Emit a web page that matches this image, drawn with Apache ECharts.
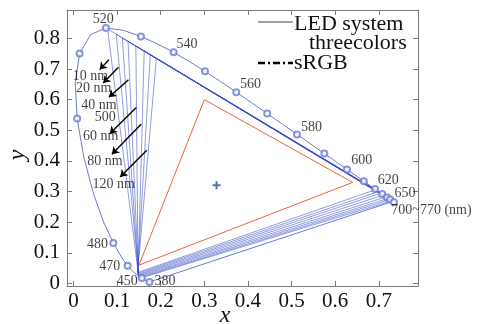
<!DOCTYPE html>
<html>
<head>
<meta charset="utf-8">
<script src="https://cdn.jsdelivr.net/npm/echarts@6/dist/echarts.min.js"></script>
<style>
  html, body { margin: 0; padding: 0; background: #fff; }
  #chart { width: 485px; height: 324px; }
</style>
</head>
<body>
<div id="chart"></div>
<script>
// CIE 1931 spectral locus, 380-700 nm in 5 nm steps (700-770 collapse to one point)
const locusNm = [380, 385, 390, 395, 400, 405, 410, 415, 420, 425, 430, 435, 440, 445, 450, 455, 460, 465, 470, 475,
  480, 485, 490, 495, 500, 505, 510, 515, 520, 525, 530, 535, 540, 545, 550, 555, 560, 565, 570, 575,
  580, 585, 590, 595, 600, 605, 610, 615, 620, 625, 630, 635, 640, 645, 650, 655, 660, 665, 670, 675,
  680, 685, 690, 695, 700];
const locusX = [0.1741, 0.1740, 0.1738, 0.1736, 0.1733, 0.1730, 0.1726, 0.1721, 0.1714, 0.1703, 0.1689, 0.1669, 0.1644, 0.1611, 0.1566, 0.1510, 0.1440, 0.1355, 0.1241, 0.1096,
  0.0913, 0.0687, 0.0454, 0.0235, 0.0082, 0.0039, 0.0139, 0.0389, 0.0743, 0.1142, 0.1547, 0.1929, 0.2296, 0.2658, 0.3016, 0.3373, 0.3731, 0.4087, 0.4441, 0.4788,
  0.5125, 0.5448, 0.5752, 0.6029, 0.6270, 0.6482, 0.6658, 0.6801, 0.6915, 0.7006, 0.7079, 0.7140, 0.7190, 0.7230, 0.7260, 0.7283, 0.7300, 0.7311, 0.7320, 0.7327,
  0.7334, 0.7340, 0.7344, 0.7346, 0.7347];
const locusY = [0.0050, 0.0050, 0.0049, 0.0049, 0.0048, 0.0048, 0.0048, 0.0048, 0.0051, 0.0058, 0.0069, 0.0086, 0.0109, 0.0138, 0.0177, 0.0227, 0.0297, 0.0399, 0.0578, 0.0868,
  0.1327, 0.2007, 0.2950, 0.4127, 0.5384, 0.6548, 0.7502, 0.8120, 0.8338, 0.8262, 0.8059, 0.7816, 0.7543, 0.7243, 0.6923, 0.6589, 0.6245, 0.5896, 0.5547, 0.5202,
  0.4866, 0.4544, 0.4242, 0.3965, 0.3725, 0.3514, 0.3340, 0.3197, 0.3083, 0.2993, 0.2920, 0.2859, 0.2809, 0.2770, 0.2740, 0.2717, 0.2700, 0.2689, 0.2680, 0.2673,
  0.2666, 0.2660, 0.2656, 0.2654, 0.2653];
const markedNm = [380, 450, 470, 480, 500, 510, 520, 530, 540, 550, 560, 570, 580, 590, 600, 610, 620, 630, 640, 650, 700];

// LED three-colour system, one triangle per bandwidth
const bandwidths = ["10 nm", "20 nm", "30 nm", "40 nm", "60 nm", "80 nm", "100 nm", "120 nm"];
const greenX = [0.078, 0.098, 0.112, 0.125, 0.143, 0.162, 0.176, 0.190];
const greenY = [0.831, 0.813, 0.801, 0.790, 0.775, 0.759, 0.747, 0.735];
const blueX = [0.150, 0.150, 0.149, 0.149, 0.148, 0.148, 0.147, 0.147];
const blueY = [0.016, 0.018, 0.021, 0.024, 0.027, 0.030, 0.033, 0.036];
const redX = [0.730, 0.726, 0.722, 0.717, 0.711, 0.705, 0.699, 0.692];
const redY = [0.270, 0.274, 0.278, 0.283, 0.289, 0.295, 0.300, 0.306];

// sRGB gamut and white point
const srgbX = [0.64, 0.30, 0.15, 0.64];
const srgbY = [0.33, 0.60, 0.06, 0.33];
const whiteX = [0.328];
const whiteY = [0.321];

// annotations
const wlText = ["520", "540", "560", "580", "600", "620", "650", "700~770 (nm)", "500", "480", "470", "450", "380"];
const wlTextX = [0.068, 0.260, 0.406, 0.546, 0.661, 0.722, 0.760, 0.821, 0.073, 0.055, 0.083, 0.123, 0.210];
const wlTextY = [0.862, 0.782, 0.649, 0.510, 0.402, 0.337, 0.294, 0.239, 0.543, 0.128, 0.055, 0.008, 0.008];
const bwText = ["10 nm", "20 nm", "40 nm", "60 nm", "80 nm", "120 nm"];
const bwTextX = [0.039, 0.046, 0.058, 0.062, 0.072, 0.092];
const bwTextY = [0.676, 0.636, 0.581, 0.480, 0.399, 0.323];
const arrowFromX = [0.081, 0.103, 0.126, 0.144, 0.155, 0.168];
const arrowFromY = [0.730, 0.706, 0.665, 0.574, 0.520, 0.435];
const arrowToX = [0.060, 0.068, 0.081, 0.083, 0.088, 0.107];
const arrowToY = [0.698, 0.654, 0.608, 0.489, 0.422, 0.348];

const xTicks = [0, 0.1, 0.2, 0.3, 0.4, 0.5, 0.6, 0.7];
const yTicks = [0, 0.1, 0.2, 0.3, 0.4, 0.5, 0.6, 0.7, 0.8];

const serif = '"Liberation Serif", "DejaVu Serif", serif';
const axisGray = "#7a7a7a";
const locusColor = "#6a7bd2";

const locusData = locusX.map((x, i) => [x, locusY[i]]);
locusData.push([locusX[0], locusY[0]]);
const markData = markedNm.map(nm => {
  const i = locusNm.indexOf(nm);
  return [locusX[i], locusY[i]];
});

const ledSeries = bandwidths.map((name, i) => ({
  type: "line",
  name,
  data: [[greenX[i], greenY[i]], [blueX[i], blueY[i]], [redX[i], redY[i]], [greenX[i], greenY[i]]],
  showSymbol: false,
  silent: true,
  lineStyle: { color: "rgba(55,75,195,0.55)", width: 1 },
  z: 3
}));

const chart = echarts.init(document.getElementById("chart"));

function makeAxis(pos, min, max, ticks, showLabel) {
  return {
    type: "value",
    position: pos,
    min, max,
    axisLine: { onZero: false, lineStyle: { color: axisGray, width: 1 } },
    axisTick: { inside: true, length: 5, customValues: ticks, lineStyle: { color: axisGray } },
    axisLabel: {
      show: showLabel,
      customValues: ticks,
      fontFamily: serif,
      fontSize: 21,
      color: "#111",
      margin: pos === "left" ? 7 : 5,
      formatter: v => String(Math.round(v * 10) / 10)
    },
    splitLine: { show: false }
  };
}

chart.setOption({
  animation: false,
  grid: { left: 67, right: 67, top: 10, bottom: 38 },
  xAxis: [
    makeAxis("bottom", -0.015, 0.79, xTicks, true),
    makeAxis("top", -0.015, 0.79, xTicks, false)
  ],
  yAxis: [
    makeAxis("left", -0.008, 0.8925, yTicks, true),
    makeAxis("right", -0.008, 0.8925, yTicks, false)
  ],
  series: [
    {
      type: "line",
      data: locusData,
      showSymbol: false,
      silent: true,
      lineStyle: { color: locusColor, width: 1 },
      z: 2
    },
    {
      type: "scatter",
      data: markData,
      symbol: "emptyCircle",
      symbolSize: 6,
      silent: true,
      itemStyle: { color: locusColor, borderColor: locusColor, borderWidth: 0.9 },
      z: 4
    },
    ...ledSeries,
    {
      type: "line",
      data: srgbX.map((x, i) => [x, srgbY[i]]),
      showSymbol: false,
      silent: true,
      lineStyle: { color: "#f0603c", width: 1 },
      z: 3
    },
    {
      type: "scatter",
      data: whiteX.map((x, i) => [x, whiteY[i]]),
      symbol: "path://M3,0h2v3h3v2h-3v3h-2v-3h-3v-2h3z",
      symbolSize: 8,
      silent: true,
      itemStyle: { color: "#2a4ea6" },
      z: 5
    },
    {
      type: "lines",
      coordinateSystem: "cartesian2d",
      symbol: ["none", "arrow"],
      symbolSize: 7,
      silent: true,
      lineStyle: { color: "#000", width: 1.4, opacity: 1 },
      data: arrowFromX.map((x, i) => ({ coords: [[x, arrowFromY[i]], [arrowToX[i], arrowToY[i]]] })),
      z: 6
    },
    {
      type: "scatter",
      clip: false,
      symbolSize: 0,
      silent: true,
      data: wlText.map((t, i) => ({ name: t, value: [wlTextX[i], wlTextY[i]] }))
        .concat(bwText.map((t, i) => ({ name: t, value: [bwTextX[i], bwTextY[i]] }))),
      label: {
        show: true,
        position: "inside",
        formatter: p => p.name,
        fontFamily: serif,
        fontSize: 14,
        color: "#111"
      },
      z: 7
    }
  ],
  graphic: [
    { type: "line", shape: { x1: 258, y1: 22, x2: 293, y2: 22 }, style: { stroke: "#444", lineWidth: 1 } },
    { type: "text", x: 294, y: 24, style: { text: "LED system", font: "22px " + serif, fill: "#111", textVerticalAlign: "middle" } },
    { type: "text", x: 309, y: 43, style: { text: "threecolors", font: "22px " + serif, fill: "#111", textVerticalAlign: "middle" } },
    { type: "line", shape: { x1: 258, y1: 63, x2: 293, y2: 63 }, style: { stroke: "#000", lineWidth: 2.5, lineDash: [7, 3, 2, 3] } },
    { type: "text", x: 294, y: 63, style: { text: "sRGB", font: "22px " + serif, fill: "#111", textVerticalAlign: "middle" } },
    { type: "text", x: 18, y: 155, rotation: Math.PI / 2, style: { text: "y", font: "italic 24px " + serif, fill: "#111", textAlign: "center", textVerticalAlign: "middle" } },
    { type: "text", x: 225, y: 316, style: { text: "x", font: "italic 24px " + serif, fill: "#111", textAlign: "center", textVerticalAlign: "middle" } }
  ]
});
</script>
</body>
</html>
